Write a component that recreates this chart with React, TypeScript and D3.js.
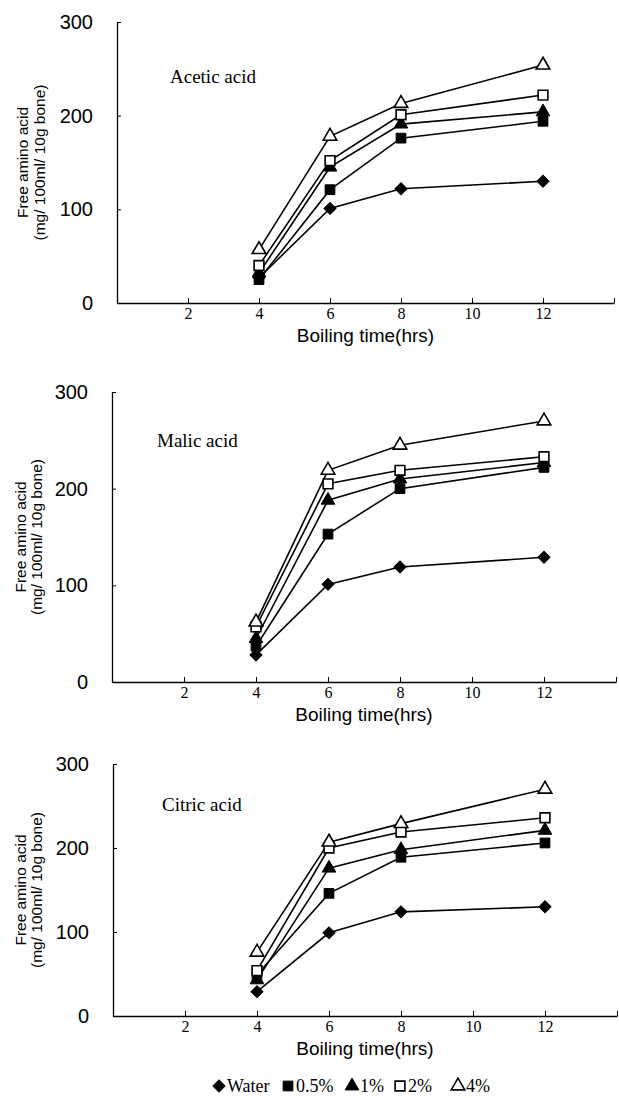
import React, { useEffect, useRef } from 'react';
import * as d3 from 'd3';

const hours = [4, 6, 8, 12];
const xTicks = [2, 4, 6, 8, 10, 12, 14];
const yTicks = [0, 100, 200, 300];
const seriesNames = ['Water', '0.5%', '1%', '2%', '4%'];
const panelTitles = ['Acetic acid', 'Malic acid', 'Citric acid'];

// one row per series (same order as seriesNames), one column per hour
const aceticAcid = [
  [27, 101, 122, 130],
  [25, 121, 176, 194],
  [32, 145, 191, 204],
  [40, 152, 201, 222],
  [57, 178, 213, 254],
];
const malicAcid = [
  [28, 101, 119, 129],
  [37, 153, 200, 222],
  [45, 188, 210, 227],
  [57, 205, 219, 233],
  [62, 219, 245, 270],
];
const citricAcid = [
  [29, 99, 124, 130],
  [49, 146, 189, 206],
  [43, 176, 198, 221],
  [54, 200, 219, 236],
  [76, 207, 229, 270],
];

const SANS = '"Liberation Sans", Arial, sans-serif';
const SERIF = '"Liberation Serif", "Times New Roman", serif';

const App = () => {
  const svg = useRef(null);
  const width = 619;
  const height = 1098;

  const panels = [
    { data: aceticAcid, left: 117, right: 614, top: 22, bottom: 303, titleX: 170, titleY: 83, labelX: [22, 39] },
    { data: malicAcid, left: 112, right: 616, top: 392, bottom: 682, titleX: 157, titleY: 447, labelX: [20, 36] },
    { data: citricAcid, left: 113, right: 617, top: 764, bottom: 1016, titleX: 162, titleY: 811, labelX: [20, 36] },
  ];

  const drawMarker = (g: any, i: number, x: number, y: number) => {
    const shape = i === 0 || i === 1 || i === 3 ? d3.symbolSquare : d3.symbolTriangle;
    const size = i === 0 ? 72 : i === 2 || i === 4 ? 80 : 95;
    const open = i === 3 || i === 4;
    g.append('path')
      .attr('d', d3.symbol().type(shape).size(size)())
      .attr('transform', `translate(${x},${y})${i === 0 ? ' rotate(45)' : ''}`)
      .attr('fill', open ? '#fff' : '#000')
      .attr('stroke', '#000')
      .attr('stroke-width', open ? 1.6 : 1);
  };

  const renderChart = (root: any) => {
    root.selectAll('*').remove();

    panels.forEach((p, pi) => {
      const x = d3.scaleLinear().domain([0, 14]).range([p.left, p.right]);
      const y = d3.scaleLinear().domain([0, 300]).range([p.bottom, p.top]);
      const g = root.append('g');

      const xAxis = g.append('g')
        .attr('transform', `translate(0,${p.bottom})`)
        .call(d3.axisBottom(x).tickValues(xTicks).tickSize(-5).tickSizeOuter(0).tickPadding(5)
          .tickFormat((d: any) => (d === 14 ? '' : String(d))));
      xAxis.select('.domain').attr('stroke-width', 1.3);
      xAxis.selectAll('text').attr('font-family', SERIF).attr('font-size', 16).attr('fill', '#000');

      const yAxis = g.append('g')
        .attr('transform', `translate(${p.left},0)`)
        .call(d3.axisLeft(y).tickValues(yTicks).tickSize(-4).tickSizeOuter(0).tickPadding(24));
      yAxis.select('.domain').attr('stroke-width', 1.3);
      yAxis.selectAll('text').attr('font-family', SANS).attr('font-size', 20).attr('fill', '#000');

      g.append('text')
        .attr('x', (p.left + p.right) / 2)
        .attr('y', p.bottom + 39)
        .attr('text-anchor', 'middle')
        .attr('font-family', SANS)
        .attr('font-size', 19)
        .text('Boiling time(hrs)');

      const cy = (p.top + p.bottom) / 2;
      ['Free amino acid', '(mg/ 100ml/ 10g bone)'].forEach((t, li) => {
        g.append('text')
          .attr('transform', `translate(${p.labelX[li]},${cy}) rotate(-90)`)
          .attr('text-anchor', 'middle')
          .attr('dominant-baseline', 'central')
          .attr('font-family', SANS)
          .attr('font-size', 15.5)
          .text(t);
      });

      g.append('text')
        .attr('x', p.titleX)
        .attr('y', p.titleY)
        .attr('font-family', SERIF)
        .attr('font-size', 19)
        .text(panelTitles[pi]);

      const line = d3.line<number>()
        .x((_, k) => x(hours[k]))
        .y(d => y(d));

      p.data.forEach(vals => {
        g.append('path')
          .attr('d', line(vals))
          .attr('fill', 'none')
          .attr('stroke', '#000')
          .attr('stroke-width', 1.6);
      });

      p.data.forEach((vals, si) => {
        vals.forEach((v, k) => drawMarker(g, si, x(hours[k]), y(v)));
      });
    });

    // legend
    const legendX = [219, 288, 352, 400, 458];
    const legend = root.append('g');
    seriesNames.forEach((name, i) => {
      drawMarker(legend, i, legendX[i], 1086);
      legend.append('text')
        .attr('x', legendX[i] + 8)
        .attr('y', 1092)
        .attr('font-family', SERIF)
        .attr('font-size', 18)
        .text(name);
    });
  };

  useEffect(() => {
    renderChart(d3.select(svg.current));
  }, []);

  return (
    <svg
      ref={svg}
      width={width}
      height={height}
      style={{ position: 'absolute', left: 0, top: 0, background: '#fff' }}
    />
  );
};

export default App;
